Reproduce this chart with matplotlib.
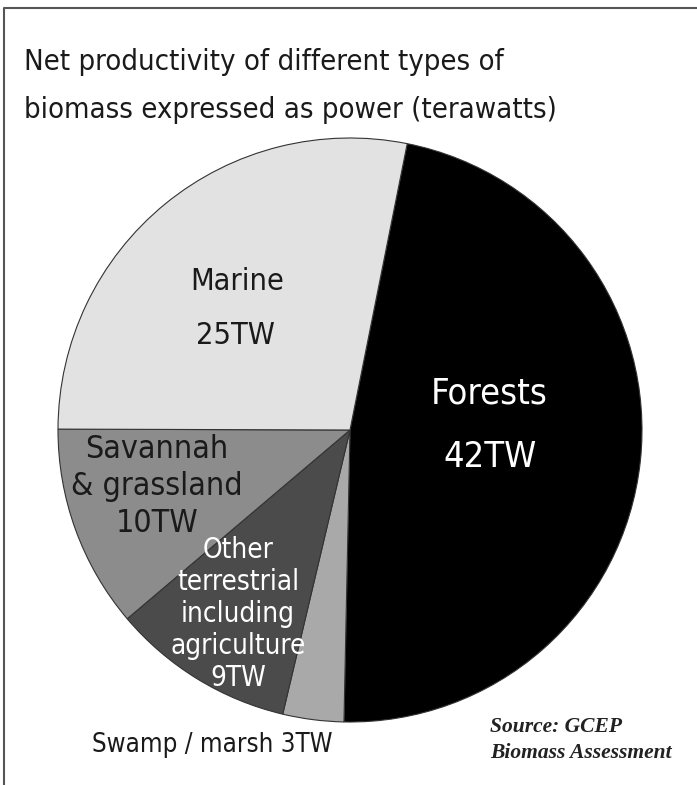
import numpy as np
import matplotlib.pyplot as plt

# data (terawatts)
categories = ['Forests', 'Swamp / marsh', 'Other terrestrial', 'Savannah & grassland', 'Marine']
values = [42, 3, 9, 10, 25]
colors = ['#000000', '#a9a9a9', '#4b4b4b', '#8c8c8c', '#e2e2e2']

W, H = 697, 785
NARROW = ['Liberation Sans Narrow', 'DejaVu Sans']

fig = plt.figure(figsize=(W / 100, H / 100), dpi=100)
ax = fig.add_axes([0, 0, 1, 1])

# pie, forests first, going clockwise from just right of the top
ax.pie(values, colors=colors, startangle=78.7, counterclock=False,
       center=(350, H - 430), radius=292,
       wedgeprops=dict(edgecolor='#333333', linewidth=0.8))
ax.set_xlim(0, W)
ax.set_ylim(0, H)
ax.set_aspect('equal')
ax.axis('off')

# frame (top and left only)
ax.plot([4, 4, W], [0, H - 8, H - 8], color='#555555', lw=1.5, clip_on=False)

# title
ax.text(24, H - 70, 'Net productivity of different types of', fontsize=21,
        family=NARROW, stretch='condensed', color='#1a1a1a', va='baseline')
ax.text(24, H - 118, 'biomass expressed as power (terawatts)', fontsize=21,
        family=NARROW, stretch='condensed', color='#1a1a1a', va='baseline')

# labels inside the wedges
def lab(x, y, s, c, size=17):
    ax.text(x, H - y, s, ha='center', va='center', fontsize=size, family=NARROW,
            stretch='condensed', color=c)

lab(489, 393, 'Forests', 'white', 26)
lab(490, 457, '42TW', 'white', 26)
lab(237, 282, 'Marine', '#1a1a1a', 22)
lab(235, 335, '25TW', '#1a1a1a', 22)
lab(157, 450, 'Savannah', '#1a1a1a', 23)
lab(157, 487, '& grassland', '#1a1a1a', 23)
lab(157, 523, '10TW', '#1a1a1a', 23)
for i, s in enumerate(['Other', 'terrestrial', 'including', 'agriculture', '9TW']):
    lab(238, 550 + i * 32, s, 'white', 20)
lab(212, 745, 'Swamp / marsh 3TW', '#1a1a1a', 18.5)

# source
ax.text(490, H - 727, 'Source: GCEP', fontsize=15.5, family='Liberation Serif',
        style='italic', weight='bold', color='#222222', va='center')
ax.text(490, H - 753, 'Biomass Assessment', fontsize=15.5, family='Liberation Serif',
        style='italic', weight='bold', color='#222222', va='center')

fig.savefig('out.png', dpi=100)
